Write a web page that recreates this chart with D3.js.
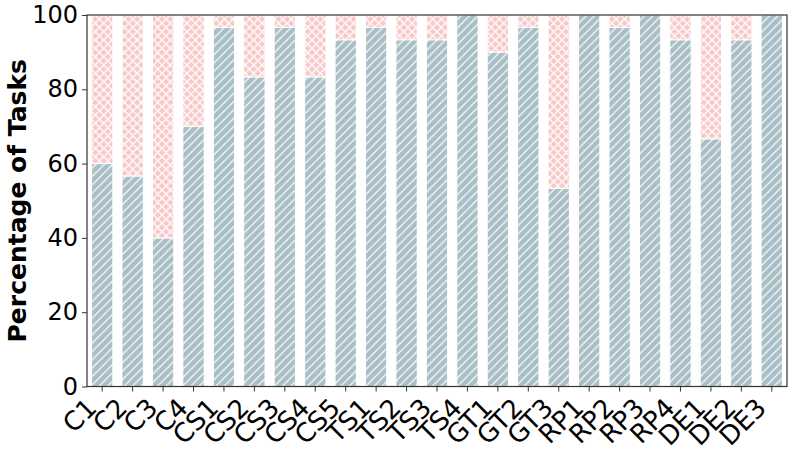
<!DOCTYPE html>
<html>
<head>
<meta charset="utf-8">
<script src="https://cdn.jsdelivr.net/npm/d3@7/dist/d3.min.js"></script>
<style>
  body { margin: 0; background: #fff; }
  text { font-family: "DejaVu Sans", sans-serif; fill: #000; }
</style>
</head>
<body>
<svg id="chart"></svg>
<script>
// task categories and the share of tasks passed (out of 100)
var categories = ["C1","C2","C3","C4","CS1","CS2","CS3","CS4","CS5","TS1","TS2","TS3","TS4",
                  "GT1","GT2","GT3","RP1","RP2","RP3","RP4","DE1","DE2","DE3"];
var passed = [60, 56.67, 40, 70, 96.67, 83.33, 96.67, 83.33, 93.33, 96.67, 93.33, 93.33, 100,
              90, 96.67, 53.33, 100, 96.67, 100, 93.33, 66.67, 93.33, 100];
var yTicks = [0, 20, 40, 60, 80, 100];

var W = 793, H = 451;
var margin = {top: 15, right: 6, bottom: 64.5, left: 87};
var width = W - margin.left - margin.right,
    height = H - margin.top - margin.bottom;

var svg = d3.select("#chart").attr("width", W).attr("height", H);

// hatch patterns, matplotlib style: 12 lines per 100px
var defs = svg.append("defs");
var s = 100 / 12;
// "/" lines: x + y = s inside the tile, plus the two corner stubs
var fwd = "M0," + s + "L" + s + ",0" +
          "M-1,1L1,-1" +
          "M" + (s - 1) + "," + (s + 1) + "L" + (s + 1) + "," + (s - 1);
// "\" lines: y = x inside the tile, plus the two corner stubs
var back = "M0,0L" + s + "," + s +
           "M-1," + (s - 1) + "L1," + (s + 1) +
           "M" + (s - 1) + ",-1L" + (s + 1) + ",1";

var diag = defs.append("pattern").attr("id", "diag")
  .attr("patternUnits", "userSpaceOnUse").attr("width", s).attr("height", s);
diag.append("rect").attr("width", s).attr("height", s).attr("fill", "#a9bec6");
diag.append("path").attr("d", fwd)
  .attr("stroke", "#fff").attr("stroke-width", 1.3).attr("stroke-opacity", 0.9);

var cross = defs.append("pattern").attr("id", "cross")
  .attr("patternUnits", "userSpaceOnUse").attr("width", s).attr("height", s);
cross.append("rect").attr("width", s).attr("height", s).attr("fill", "#f8c8c8");
cross.append("path").attr("d", fwd + back)
  .attr("stroke", "#fff").attr("stroke-width", 1.4).attr("stroke-opacity", 0.95);

var g = svg.append("g").attr("transform", "translate(" + margin.left + "," + margin.top + ")");

var x = d3.scaleBand().domain(categories).range([0, width]).paddingInner(0.3).paddingOuter(0.15);
var y = d3.scaleLinear().domain([0, 100]).range([height, 0]);

var data = categories.map(function(c, i) { return {name: c, v: passed[i]}; });

// lower segment (passed)
g.selectAll(".low").data(data).enter().append("rect")
  .attr("class", "low")
  .attr("x", function(d) { return x(d.name); })
  .attr("width", x.bandwidth())
  .attr("y", function(d) { return y(d.v); })
  .attr("height", function(d) { return y(0) - y(d.v); })
  .attr("fill", "url(#diag)")
  .attr("stroke", "#fff").attr("stroke-width", 1);

// upper segment (remaining)
g.selectAll(".high").data(data.filter(function(d) { return d.v < 100; })).enter().append("rect")
  .attr("class", "high")
  .attr("x", function(d) { return x(d.name); })
  .attr("width", x.bandwidth())
  .attr("y", y(100))
  .attr("height", function(d) { return y(d.v) - y(100); })
  .attr("fill", "url(#cross)")
  .attr("stroke", "#fff").attr("stroke-width", 1);

// axes
var yAxis = g.append("g").call(d3.axisLeft(y).tickValues(yTicks).tickSize(5).tickPadding(4));
var xAxis = g.append("g").attr("transform", "translate(0," + height + ")")
  .call(d3.axisBottom(x).tickSize(5).tickPadding(4));

[yAxis, xAxis].forEach(function(a) {
  a.select(".domain").remove();
  a.selectAll("line").attr("stroke", "#333");
  a.selectAll("text").attr("fill", "#000");
});
yAxis.selectAll("text").style("font-size", "24px");

xAxis.selectAll("text")
  .style("font-size", "26px")
  .attr("text-anchor", "end")
  .attr("dy", null).attr("y", null)
  .attr("transform", "translate(-4,23) rotate(-45)");

// frame
g.append("rect").attr("width", width).attr("height", height)
  .attr("fill", "none").attr("stroke", "#333").attr("stroke-width", 1.2);

// y label
svg.append("text")
  .attr("transform", "translate(26," + (margin.top + height / 2) + ") rotate(-90)")
  .attr("text-anchor", "middle")
  .style("font-size", "25px").style("font-weight", "bold")
  .text("Percentage of Tasks");
</script>
</body>
</html>
